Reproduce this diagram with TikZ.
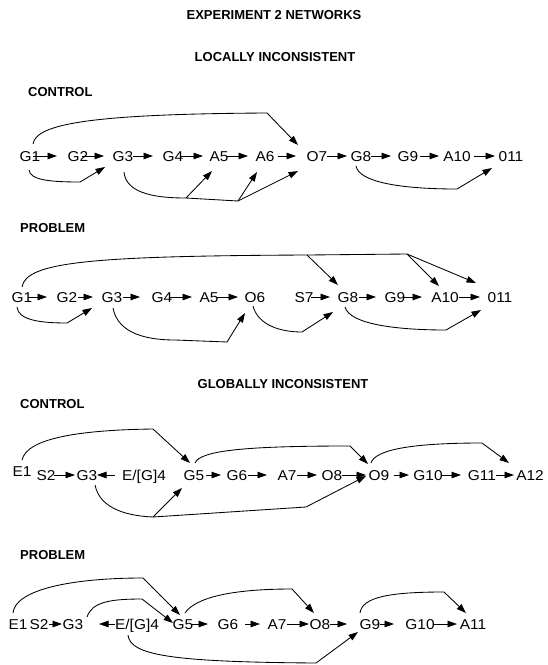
\documentclass[tikz,border=0pt]{standalone}
\usepackage{fontspec}
\setmainfont{Liberation Sans}
\newfontfamily\lblfont[FakeStretch=1.08]{Liberation Sans}
\usetikzlibrary{arrows.meta,calc}
\newcommand\rowarr[4]{\draw[arr] ($(#1)+(#3,0)$) -- ($(#2)+(#4,0)$);}
\begin{document}
\begin{tikzpicture}[x=1pt,y=-1pt,
  lbl/.style={font=\lblfont\fontsize{14.3}{14}\selectfont, inner sep=0pt, text height=10pt, text depth=0pt},
  head/.style={font=\bfseries\fontsize{13}{14}\selectfont, inner sep=0pt, text height=9.4pt, text depth=0pt},
  arr/.style={line width=0.85pt, -{Triangle[length=9.5pt,width=6.5pt]}},
  ln/.style={line width=0.85pt}]
\useasboundingbox (0,0) rectangle (548,665);

% headings
\node[head] (t1) at (274,15) {EXPERIMENT 2 NETWORKS};
\node[head] (t2) at (275,57) {LOCALLY INCONSISTENT};
\node[head, anchor=west] (t3) at (28,92) {CONTROL};
\node[head, anchor=west] (t4) at (20,228) {PROBLEM};
\node[head] (t5) at (283,384) {GLOBALLY INCONSISTENT};
\node[head, anchor=west] (t6) at (20,404) {CONTROL};
\node[head, anchor=west] (t7) at (20,555) {PROBLEM};

% ---------- locally inconsistent, control ----------
\node[lbl] (lcG1) at (30,156) {G1};
\node[lbl] (lcG2) at (78,156) {G2};
\node[lbl] (lcG3) at (123,156) {G3};
\node[lbl] (lcG4) at (173,156) {G4};
\node[lbl] (lcA5) at (219,156) {A5};
\node[lbl] (lcA6) at (265,156) {A6};
\node[lbl] (lcO7) at (317,156) {O7};
\node[lbl] (lcG8) at (361,156) {G8};
\node[lbl] (lcG9) at (408,156) {G9};
\node[lbl] (lcA10) at (457,156) {A10};
\node[lbl] (lc011) at (511,156) {011};

\rowarr{lcG1}{lcG2}{3}{-21}
\rowarr{lcG2}{lcG3}{4}{-19}
\rowarr{lcG3}{lcG4}{10}{-20}
\rowarr{lcG4}{lcA5}{7}{-16}
\rowarr{lcA5}{lcA6}{7}{-17}
\rowarr{lcA6}{lcO7}{13}{-21}
\rowarr{lcO7}{lcG8}{10}{-14}
\rowarr{lcG8}{lcG9}{10}{-17}
\rowarr{lcG9}{lcA10}{12}{-18}
\rowarr{lcA10}{lc011}{17}{-16}

\draw[arr] ($(lcG1)+(3,-12)$) .. controls (36,124) and (90,114) .. (267,113) -- ($(lcO7)+(-19,-11)$);
\draw[arr] ($(lcG1)+(-1,14)$) .. controls (30,180) and (50,182) .. (80,182) -- ($(lcG3)+(-18,11)$);
\coordinate (lcc1) at (186,198);
\coordinate (lcc2) at (238,201);
\draw[ln] ($(lcG3)+(1,16)$) .. controls (126,195) and (160,198) .. (lcc1) -- (lcc2);
\draw[arr] (lcc1) -- ($(lcA5)+(-7,15)$);
\draw[arr] (lcc2) -- ($(lcA6)+(-8,16)$);
\draw[arr] (lcc2) -- ($(lcO7)+(-19,15)$);
\draw[arr] ($(lcG8)+(-5,10)$) .. controls (359,182) and (400,189) .. (457,189) -- ($(lc011)+(-19,12)$);

% ---------- locally inconsistent, problem ----------
\node[lbl] (lpG1) at (22,297) {G1};
\node[lbl] (lpG2) at (67,297) {G2};
\node[lbl] (lpG3) at (112,297) {G3};
\node[lbl] (lpG4) at (162,297) {G4};
\node[lbl] (lpA5) at (209,297) {A5};
\node[lbl] (lpO6) at (255,297) {O6};
\node[lbl] (lpS7) at (304,297) {S7};
\node[lbl] (lpG8) at (348,297) {G8};
\node[lbl] (lpG9) at (395,297) {G9};
\node[lbl] (lpA10) at (445,297) {A10};
\node[lbl] (lp011) at (500,297) {011};

\rowarr{lpG1}{lpG2}{6}{-20}
\rowarr{lpG2}{lpG3}{11}{-19}
\rowarr{lpG3}{lpG4}{11}{-22}
\rowarr{lpG4}{lpA5}{8}{-17}
\rowarr{lpA5}{lpO6}{8}{-17}
\rowarr{lpS7}{lpG8}{7}{-18}
\rowarr{lpG8}{lpG9}{11}{-19}
\rowarr{lpG9}{lpA10}{9}{-23}
\rowarr{lpA10}{lp011}{14}{-20}

\coordinate (lpd1) at (307,255);
\coordinate (lpd2) at (407,254);
\draw[ln] ($(lpG1)+(0,-10)$) .. controls (26,262) and (90,256) .. (lpd1) -- (lpd2);
\draw[arr] (lpd1) -- ($(lpG8)+(-10,-12)$);
\draw[arr] (lpd2) -- ($(lpA10)+(-6,-11)$);
\draw[arr] (lpd2) -- ($(lp011)+(-24,-14)$);
\draw[arr] ($(lpG1)+(-5,10)$) .. controls (18,320) and (40,323) .. (67,323) -- ($(lpG3)+(-20,11)$);
\draw[arr] ($(lpG3)+(1,11)$) .. controls (118,335) and (150,340) .. (175,340) -- (227,342) -- ($(lpO6)+(-10,16)$);
\draw[arr] ($(lpO6)+(-2,9)$) .. controls (258,325) and (280,332) .. (302,332) -- ($(lpG8)+(-15,15)$);
\draw[arr] ($(lpG8)+(-3,10)$) .. controls (350,325) and (400,330) .. (446,330) -- ($(lp011)+(-19,13)$);

% ---------- globally inconsistent, control ----------
\node[lbl] (gcE1) at (22,471) {E1};
\node[lbl] (gcS2) at (46,475) {S2};
\node[lbl] (gcG3) at (87,475) {G3};
\node[lbl] (gcE4) at (144,475) {E/[G]4};
\node[lbl] (gcG5) at (194,475) {G5};
\node[lbl] (gcG6) at (237,475) {G6};
\node[lbl] (gcA7) at (287,475) {A7};
\node[lbl] (gcO8) at (332,475) {O8};
\node[lbl] (gcO9) at (379,475) {O9};
\node[lbl] (gcG10) at (428,475) {G10};
\node[lbl] (gcG11) at (482,475) {G11};
\node[lbl] (gcA12) at (530,475) {A12};

\rowarr{gcS2}{gcG3}{8}{-12}
\rowarr{gcE4}{gcG3}{-29}{10}
\rowarr{gcG5}{gcG6}{12}{-16}
\rowarr{gcG6}{gcA7}{11}{-20}
\rowarr{gcA7}{gcO8}{10}{-15}
\rowarr{gcO8}{gcO9}{10}{-13}
\rowarr{gcO9}{gcG10}{15}{-19}
\rowarr{gcG10}{gcG11}{14}{-21}
\rowarr{gcG11}{gcA12}{14}{-16}

\draw[arr] ($(gcE1)+(0,-11)$) .. controls (27,438) and (80,430) .. (153,429) -- ($(gcG5)+(-4,-12)$);
\coordinate (gcf1) at (153,517);
\coordinate (gcf2) at (306,507);
\draw[ln] ($(gcG3)+(8,10)$) .. controls (100,510) and (130,516) .. (gcf1) -- (gcf2);
\draw[arr] (gcf1) -- ($(gcG5)+(-12,13)$);
\draw[arr] (gcf2) -- ($(gcO9)+(-13,1)$);
\draw[arr] ($(gcG5)+(1,-12)$) .. controls (200,450) and (250,446) .. (350,446) -- ($(gcO9)+(-11,-11)$);
\draw[arr] ($(gcO9)+(-8,-12)$) .. controls (375,450) and (410,443) .. (482,443) -- ($(gcA12)+(-21,-12)$);

% ---------- globally inconsistent, problem ----------
\node[lbl] (gpE1) at (18,624) {E1};
\node[lbl] (gpS2) at (39,624) {S2};
\node[lbl] (gpG3) at (73,624) {G3};
\node[lbl] (gpE4) at (137,624) {E/[G]4};
\node[lbl] (gpG5) at (183,624) {G5};
\node[lbl] (gpG6) at (228,624) {G6};
\node[lbl] (gpA7) at (277,624) {A7};
\node[lbl] (gpO8) at (320,624) {O8};
\node[lbl] (gpG9) at (370,624) {G9};
\node[lbl] (gpG10) at (420,624) {G10};
\node[lbl] (gpA11) at (473,624) {A11};

\rowarr{gpS2}{gpG3}{10}{-11}
\rowarr{gpE4}{gpG3}{-22}{26}
\rowarr{gpG5}{gpG6}{9}{-20}
\rowarr{gpG6}{gpA7}{17}{-17}
\rowarr{gpA7}{gpO8}{10}{-11}
\rowarr{gpO8}{gpG9}{10}{-23}
\rowarr{gpG9}{gpG10}{10}{-26}
\rowarr{gpG10}{gpA11}{14}{-16}

\draw[arr] ($(gpE1)+(-5,-11)$) .. controls (15,590) and (70,578) .. (143,578) -- ($(gpG5)+(-3,-9)$);
\draw[arr] ($(gpG3)+(14,-7)$) .. controls (92,602) and (110,599) .. (142,599) -- ($(gpG5)+(-10,-1)$);
\draw[arr] ($(gpE4)+(-9,11)$) .. controls (130,655) and (170,662) .. (316,663) -- ($(gpG9)+(-12,8)$);
\draw[arr] ($(gpG5)+(2,-11)$) .. controls (195,598) and (230,589) .. (292,589) -- ($(gpO8)+(-6,-11)$);
\draw[arr] ($(gpG9)+(-10,-11)$) .. controls (362,597) and (390,592) .. (444,592) -- ($(gpA11)+(-7,-11)$);
\end{tikzpicture}
\end{document}
